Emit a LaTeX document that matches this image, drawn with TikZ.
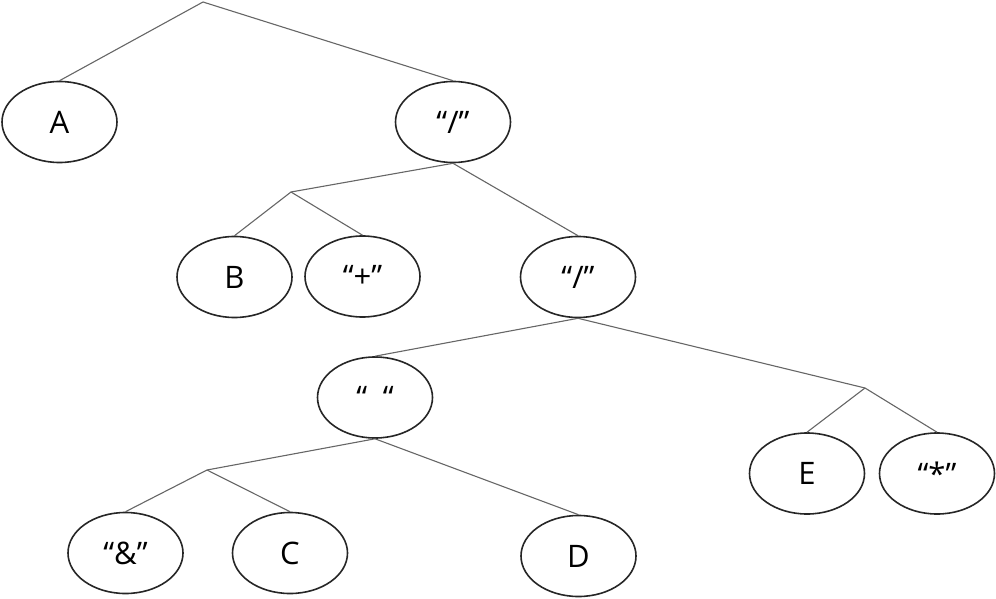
\documentclass[tikz,border=0pt]{standalone}
\usepackage{fontspec}
\setmainfont{Open Sans}
\usetikzlibrary{shapes.geometric}
\begin{document}
\begin{tikzpicture}[x=0.5pt,y=-0.5pt,
  tnode/.style={ellipse,draw=black!85,line width=0.8pt,minimum width=57.5pt,minimum height=40.5pt,inner sep=0pt,font=\fontsize{15.5}{18}\selectfont},
  edge/.style={draw=black!60,line width=0.55pt}]
\useasboundingbox (0,0) rectangle (996,599);
\coordinate (r) at (203,2);
\coordinate (j1) at (291,192);
\coordinate (j2) at (865,388);
\coordinate (j3) at (207,470);
\node[tnode] (A) at (59.5,122) {A};
\node[tnode] (s1) at (453,122) {“/”};
\node[tnode] (B) at (234.5,277) {B};
\node[tnode] (plus) at (362.5,276.5) {“+”};
\node[tnode] (s2) at (578,277) {“/”};
\node[tnode] (sp) at (375,397.5) {“\hspace{0.5em}“};
\node[tnode] (E) at (807,473.5) {E};
\node[tnode] (star) at (937,473.5) {“*”};
\node[tnode] (amp) at (125.5,553) {“\&”};
\node[tnode] (C) at (290,553) {C};
\node[tnode] (D) at (578.5,556) {D};
\draw[edge] (A.north) -- (r) -- (s1.north);
\draw[edge] (s1.south) -- (j1);
\draw[edge] (B.north) -- (j1) -- (plus.north);
\draw[edge] (s1.south) -- (s2.north);
\draw[edge] (s2.south) -- (sp.north);
\draw[edge] (s2.south) -- (j2);
\draw[edge] (E.north) -- (j2) -- (star.north);
\draw[edge] (sp.south) -- (j3);
\draw[edge] (amp.north) -- (j3) -- (C.north);
\draw[edge] (sp.south) -- (D.north);
\end{tikzpicture}
\end{document}
